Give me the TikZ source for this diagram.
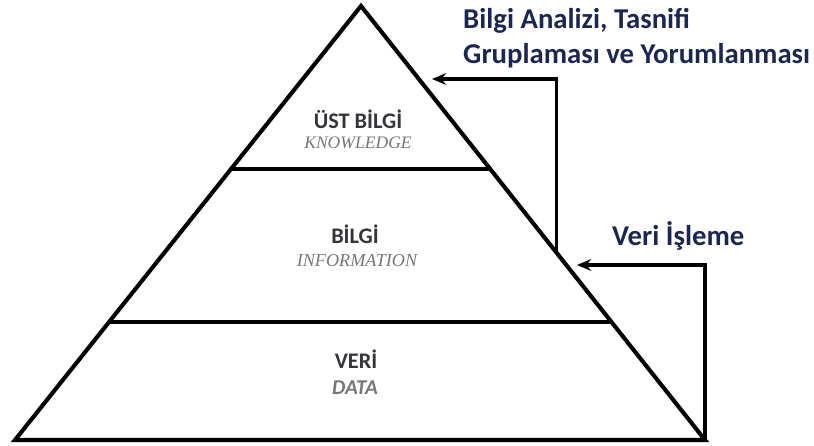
\documentclass[tikz,border=0pt]{standalone}
\usepackage{fontspec}
\setmainfont{Carlito}
\newfontfamily\levelserif{Liberation Serif}
\usetikzlibrary{calc, arrows.meta}
\definecolor{notenavy}{RGB}{28,38,82}
\definecolor{leveldark}{RGB}{52,52,58}
\definecolor{levelsub}{RGB}{118,118,122}

\begin{document}
\begin{tikzpicture}[x=0.03cm, y=-0.03cm,
  edge/.style={line width=3.5pt, line cap=round, line join=miter},
  flow/.style={line width=2.6pt, -{Stealth[length=12pt, width=10pt]}},
  level/.style={anchor=base, inner sep=0pt, text=leveldark,
    font=\fontsize{19}{22}\selectfont\bfseries},
  sub/.style={anchor=base, inner sep=0pt, text=levelsub},
  note/.style={inner sep=0pt, text=notenavy,
    font=\fontsize{24.5}{29.8}\selectfont\bfseries}]
  \useasboundingbox (0,0) rectangle (814,445);
  % piramit köşeleri
  \coordinate (T) at (361,6);
  \coordinate (BL) at (15,440);
  \coordinate (BR) at (705,440);
  % katman çizgileri (y=169 ve y=322)
  \coordinate (L1) at ($(T)!0.3756!(BL)$);
  \coordinate (R1) at ($(T)!0.3756!(BR)$);
  \coordinate (L2) at ($(T)!0.728!(BL)$);
  \coordinate (R2) at ($(T)!0.728!(BR)$);
  % okların başı ve ucu
  \coordinate (S1) at ($(T)!0.567!(BR)$);
  \coordinate (E1) at (432,79);
  \coordinate (E2) at (577,265);

  \draw[edge] (BL) -- (T) -- (BR) -- cycle;
  \draw[edge] (L1) -- (R1);
  \draw[edge] (L2) -- (R2);

  \draw[flow] (S1) |- (E1);
  \draw[flow] (BR) |- (E2);

  \node[level] (ustbilgi) at (358,128) {ÜST BİLGİ};
  \node[sub, font=\fontsize{15}{17}\selectfont\levelserif\itshape]
    (knowledge) at (358,148) {KNOWLEDGE};
  \node[level] (bilgi) at (355,243) {BİLGİ};
  \node[sub, font=\fontsize{15.5}{17}\selectfont\levelserif\itshape]
    (information) at (357,266) {INFORMATION};
  \node[level] (veri) at (356,368) {VERİ};
  \node[sub, font=\fontsize{18}{20}\selectfont\bfseries\itshape]
    (data) at (355,394) {DATA};

  \node[note, anchor=north west, align=left] (analiz) at (463,8)
    {Bilgi Analizi, Tasnifi\\Gruplaması ve Yorumlanması};
  \node[note, anchor=base west] (isleme) at (612,245) {Veri İşleme};
\end{tikzpicture}
\end{document}
